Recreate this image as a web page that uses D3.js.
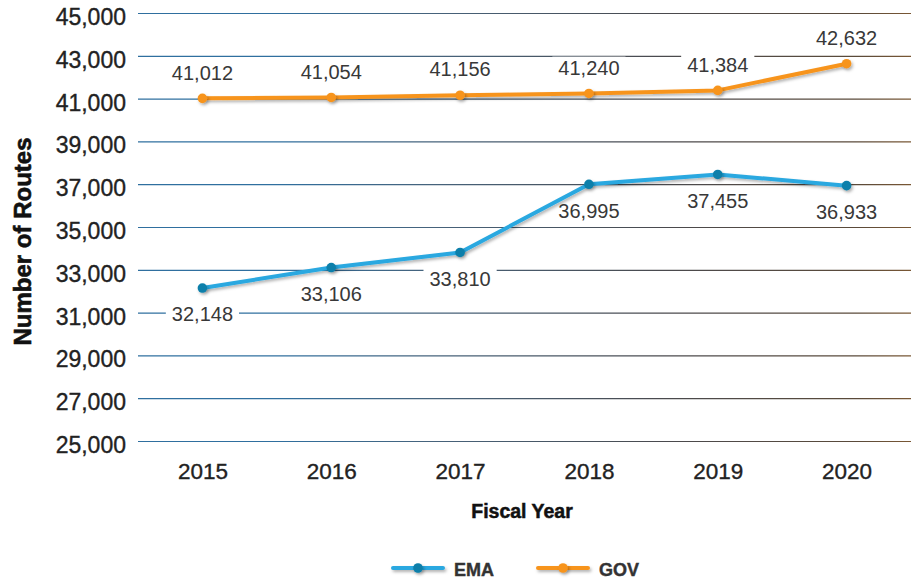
<!DOCTYPE html>
<html>
<head>
<meta charset="utf-8">
<script src="https://cdn.jsdelivr.net/npm/d3@7"></script>
<style>
  html, body { margin: 0; padding: 0; background: #fff; }
  svg { display: block; font-family: "Liberation Sans", Arial, Helvetica, sans-serif; }
</style>
</head>
<body>
<svg id="chart" width="911" height="580"></svg>
<script>
const years = ["2015", "2016", "2017", "2018", "2019", "2020"];
const emaValues = [32148, 33106, 33810, 36995, 37455, 36933];
const govValues = [41012, 41054, 41156, 41240, 41384, 42632];
const yTicks = [25000, 27000, 29000, 31000, 33000, 35000, 37000, 39000, 41000, 43000, 45000];
const seriesNames = ["EMA", "GOV"];

const svg = d3.select("#chart");
const plotLeft = 138, plotRight = 911, plotTop = 13, plotBottom = 441;
const FONT = "'Liberation Sans', Arial, Helvetica, sans-serif";

const x = d3.scalePoint().domain(years).range([plotLeft, plotRight]).padding(0.5);
const y = d3.scaleLinear().domain([25000, 45000]).range([plotBottom, plotTop]);

const defs = svg.append("defs");
const grad = defs.append("linearGradient")
  .attr("id", "gridGrad").attr("gradientUnits", "userSpaceOnUse")
  .attr("x1", plotLeft).attr("x2", plotRight).attr("y1", 0).attr("y2", 0);
grad.append("stop").attr("offset", 0).attr("stop-color", "#2f6f9f");
grad.append("stop").attr("offset", 0.2).attr("stop-color", "#46637c");
grad.append("stop").attr("offset", 0.5).attr("stop-color", "#4a4a4e");
grad.append("stop").attr("offset", 0.75).attr("stop-color", "#5a4a3a");
grad.append("stop").attr("offset", 1).attr("stop-color", "#c97a26");

// soft drop shadow; user-space region so flat (zero-height) lines keep it too
const shadow = defs.append("filter").attr("id", "shadow")
  .attr("filterUnits", "userSpaceOnUse")
  .attr("x", -1000).attr("y", -1000).attr("width", 3000).attr("height", 3000);
shadow.append("feDropShadow").attr("dx", 1.5).attr("dy", 2).attr("stdDeviation", 1.5)
  .attr("flood-color", "#000").attr("flood-opacity", 0.3);

// horizontal grid + y tick labels
const yAxis = d3.axisLeft(y).tickValues(yTicks).tickSize(-(plotRight - plotLeft))
  .tickFormat(d3.format(",")).tickPadding(12);
const gy = svg.append("g").attr("transform", `translate(${plotLeft},0)`).call(yAxis);
gy.select(".domain").remove();
gy.selectAll(".tick line").attr("stroke", "url(#gridGrad)").attr("stroke-width", 1.2);
gy.selectAll(".tick text").attr("font-size", 23).attr("fill", "#222")
  .attr("stroke", "#222").attr("stroke-width", 0.35)
  .attr("dy", "0.5em").style("font-family", FONT);

// x tick labels
const xAxis = d3.axisBottom(x).tickSize(0).tickPadding(38);
const gx = svg.append("g").attr("transform", `translate(0,${plotBottom})`).call(xAxis);
gx.select(".domain").remove();
gx.selectAll(".tick text").attr("font-size", 22.5).attr("fill", "#222")
  .attr("stroke", "#222").attr("stroke-width", 0.35)
  .attr("dy", 0).style("font-family", FONT);

// axis titles
svg.append("text").attr("transform", `translate(31,241.5) rotate(-90)`)
  .attr("text-anchor", "middle").attr("font-size", 24).attr("font-weight", "bold")
  .attr("fill", "#111").attr("stroke", "#111").attr("stroke-width", 0.6)
  .text("Number of Routes");
svg.append("text").attr("x", 522).attr("y", 518)
  .attr("text-anchor", "middle").attr("font-size", 19.5).attr("font-weight", "bold")
  .attr("fill", "#111").attr("stroke", "#111").attr("stroke-width", 0.5)
  .text("Fiscal Year");

const series = [
  { name: seriesNames[0], values: emaValues, line: "#29a8e0", dot: "#0a7faa", labelDy: 26 },
  { name: seriesNames[1], values: govValues, line: "#f7941d", dot: "#f7941d", labelDy: -26 }
];

const line = d3.line().x((d, i) => x(years[i])).y(d => y(d));

// value labels sit on white backing that interrupts the grid, beneath the lines
const labelLayer = svg.append("g");
const lineLayer = svg.append("g");

series.forEach(s => {
  s.values.forEach((v, i) => {
    const lx = x(years[i]), ly = y(v) + s.labelDy;
    const t = labelLayer.append("text").attr("x", lx).attr("y", ly)
      .attr("text-anchor", "middle").attr("dy", "0.36em")
      .attr("font-size", 20).attr("fill", "#383838").text(d3.format(",")(v));
    const b = t.node().getBBox();
    labelLayer.insert("rect", "text").attr("x", b.x - 6).attr("y", b.y)
      .attr("width", b.width + 12).attr("height", b.height).attr("fill", "#fff");
  });

  const g = lineLayer.append("g");
  g.append("path").datum(s.values).attr("d", line)
    .attr("fill", "none").attr("stroke", s.line).attr("stroke-width", 4)
    .attr("stroke-linejoin", "round").attr("filter", "url(#shadow)");
  g.selectAll("circle").data(s.values).join("circle")
    .attr("cx", (d, i) => x(years[i])).attr("cy", d => y(d)).attr("r", 4.8)
    .attr("fill", s.dot).attr("filter", "url(#shadow)");
});

// legend
const legendY = 568;
const legendItems = [
  { name: seriesNames[0], x: 393, line: "#29a8e0", dot: "#0a7faa" },
  { name: seriesNames[1], x: 538, line: "#f7941d", dot: "#f7941d" }
];
legendItems.forEach(it => {
  const g = svg.append("g").attr("transform", `translate(${it.x},${legendY})`);
  g.append("line").attr("x1", 0).attr("x2", 50).attr("y1", 0).attr("y2", 0)
    .attr("stroke", it.line).attr("stroke-width", 4).attr("stroke-linecap", "round")
    .attr("filter", "url(#shadow)");
  g.append("circle").attr("cx", 25).attr("cy", 0).attr("r", 4.8).attr("fill", it.dot)
    .attr("filter", "url(#shadow)");
  g.append("text").attr("x", 61).attr("y", 8)
    .attr("font-size", 18).attr("font-weight", "bold").attr("fill", "#333")
    .attr("stroke", "#333").attr("stroke-width", 0.4).text(it.name);
});
</script>
</body>
</html>
